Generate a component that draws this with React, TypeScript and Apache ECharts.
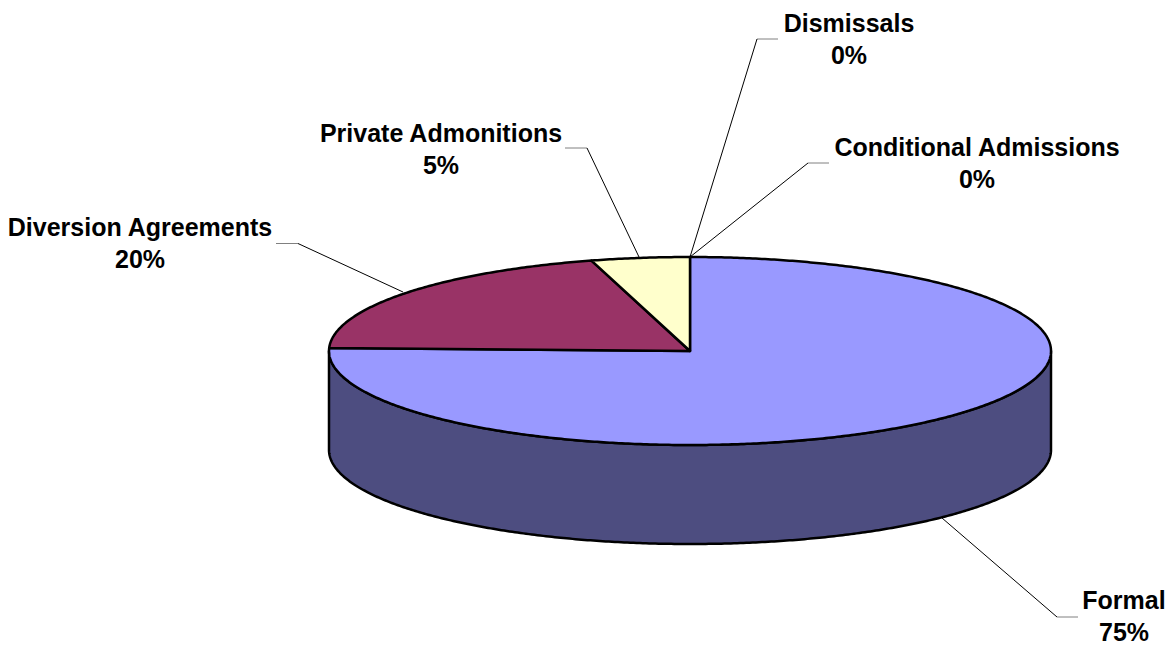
import React, { useEffect, useRef } from "react";
import * as echarts from "echarts";

const categories = ["Formal", "Diversion Agreements", "Private Admonitions", "Dismissals", "Conditional Admissions"];
const values = [75.5, 20.1, 4.4, 0, 0];
const percentLabels = ["75%", "20%", "5%", "0%", "0%"];
const topColors = ["#9999FF", "#993366", "#FFFFCC", "#CCFFFF", "#660066"];
const sideColor = "#4D4D80";

const CX = 690, CY = 351, RX = 361, RY = 94, DEPTH = 99;
const FONT = "Liberation Sans, Arial, sans-serif";
const FONT_SIZE = 25;

// label centre x, first line y, second line y
const labelLayout = [
  [1124, 600, 632],
  [140, 227, 259],
  [441, 133, 165],
  [849, 23, 55],
  [977, 147, 179],
];
// gray stub [x0, x1, y], then elbow to anchor on pie
const leaderLayout = [
  { stub: [1078, 1057, 617], anchor: [942, 518] },
  { stub: [276, 298, 243.5], anchor: [403, 292] },
  { stub: [565, 587, 148], anchor: [639, 257] },
  { stub: [778, 757, 39], anchor: [690, 257] },
  { stub: [829, 808, 163], anchor: [690, 257] },
];

const total = values.reduce((a, b) => a + b, 0);
const starts = values.map((_, i) => values.slice(0, i).reduce((a, b) => a + b, 0));

const pt = (deg: number, dy = 0): number[] => {
  const t = (deg * Math.PI) / 180;
  return [CX + RX * Math.sin(t), CY - RY * Math.cos(t) + dy];
};

const arc = (a: number, b: number, dy = 0): number[][] => {
  const out: number[][] = [];
  const n = Math.max(1, Math.ceil(Math.abs(b - a) * 2));
  for (let i = 0; i <= n; i++) out.push(pt(a + ((b - a) * i) / n, dy));
  return out;
};

const renderSlice = (_params: any, api: any) => {
  const idx = api.value(1);
  const v = api.value(0);
  const a0 = (starts[idx] / total) * 360;
  const a1 = a0 + (v / total) * 360;
  const children: any[] = [];
  if (v <= 0) return { type: "group", children };
  const s0 = Math.max(a0, 90);
  const s1 = Math.min(a1, 270);
  if (s1 > s0) {
    children.push({
      type: "polygon",
      shape: { points: [...arc(s0, s1), ...arc(s1, s0, DEPTH)] },
      style: { fill: sideColor, stroke: "#000", lineWidth: 2.5, lineJoin: "round" },
    });
  }
  children.push({
    type: "polygon",
    shape: { points: [[CX, CY], ...arc(a0, a1)] },
    style: { fill: topColors[idx], stroke: "#000", lineWidth: 2.5, lineJoin: "round" },
  });
  return { type: "group", children };
};

const graphics: any[] = [];
leaderLayout.forEach((l) => {
  graphics.push({
    type: "line",
    shape: { x1: l.stub[0], y1: l.stub[2], x2: l.stub[1], y2: l.stub[2] },
    style: { stroke: "#808080", lineWidth: 1 },
    z: 1,
  });
  graphics.push({
    type: "line",
    shape: { x1: l.stub[1], y1: l.stub[2], x2: l.anchor[0], y2: l.anchor[1] },
    style: { stroke: "#000", lineWidth: 1 },
    z: 1,
  });
});
categories.forEach((c, i) => {
  const [x, y1, y2] = labelLayout[i];
  [c, percentLabels[i]].forEach((t, j) => {
    graphics.push({
      type: "text",
      x,
      y: j === 0 ? y1 : y2,
      z: 3,
      style: {
        text: t,
        fill: "#000",
        font: `bold ${FONT_SIZE}px ${FONT}`,
        textAlign: "center",
        textVerticalAlign: "middle",
      },
    });
  });
});

export default function App() {
  const ref = useRef<HTMLDivElement>(null);
  useEffect(() => {
    document.body.style.margin = "0";
    const chart = echarts.init(ref.current!, undefined, { renderer: "svg" });
    chart.setOption({
      animation: false,
      backgroundColor: "#fff",
      graphic: graphics,
      series: [
        {
          type: "custom",
          coordinateSystem: "none",
          renderItem: renderSlice,
          silent: true,
          z: 2,
          data: values.map((v, i) => [v, i]),
        },
      ],
    });
    return () => chart.dispose();
  }, []);
  return <div ref={ref} style={{ width: 1175, height: 647 }} />;
}
